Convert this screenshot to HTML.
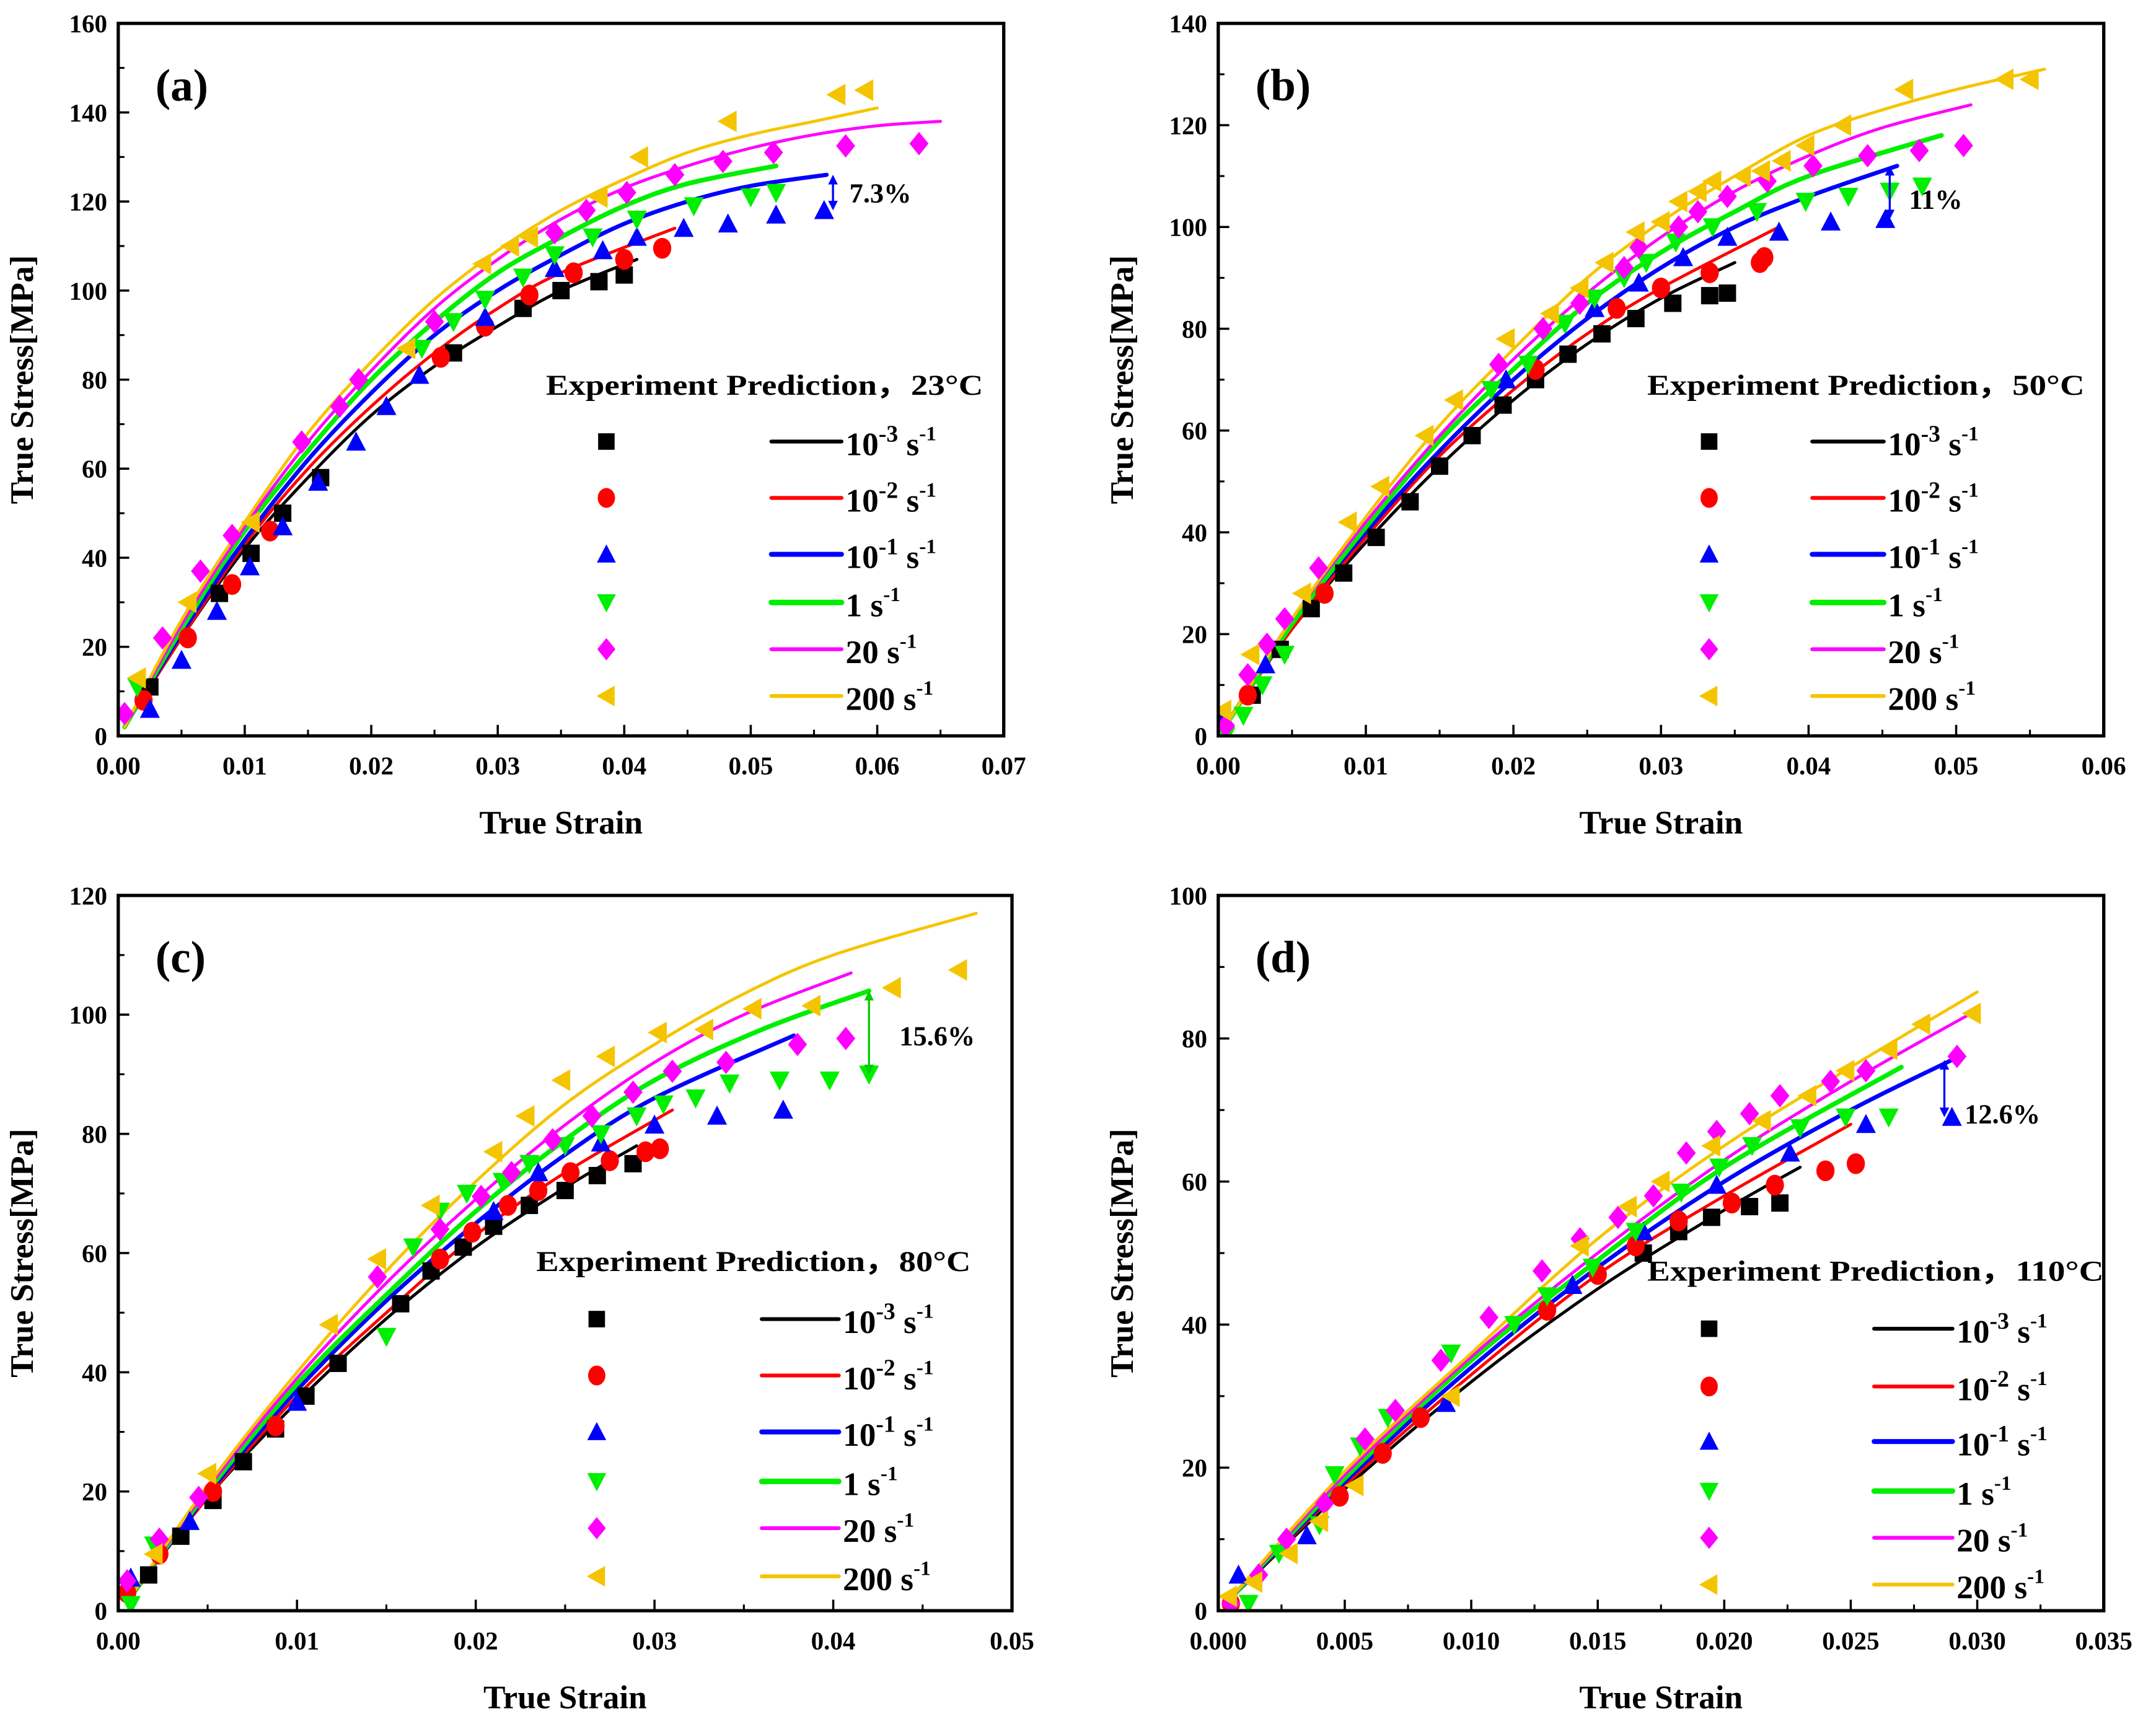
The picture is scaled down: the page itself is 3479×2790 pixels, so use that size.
<!DOCTYPE html>
<html><head><meta charset="utf-8"><style>
html,body{margin:0;padding:0;background:#fff;}
svg{display:block;}
text{font-family:"Liberation Serif",serif;font-weight:bold;fill:#000;}
</style></head><body>
<svg id="fig" width="3479" height="2790" viewBox="0 0 1568 1257" preserveAspectRatio="none" xmlns="http://www.w3.org/2000/svg"></svg>
<script>
// ===== shared series meta =====
const seriesKeys = ["r3","r2","r1","r0","r20","r200"];
const seriesColors = ["#000000","#ff0000","#0000ff","#00ee00","#ff00ff","#f5c400"];
const seriesWidths = [2.2,2.2,3,3.4,2.2,2.2];
const markerShapes = ["square","circle","up","down","diamond","left"];

// ===== Panel (a) 23°C =====
const aPredX = {r3:[0.0005,0.005,0.01,0.015,0.02,0.025,0.03,0.035,0.041],
 r2:[0.0005,0.005,0.01,0.015,0.02,0.025,0.03,0.035,0.044],
 r1:[0.0005,0.005,0.01,0.015,0.02,0.025,0.03,0.035,0.04,0.045,0.05,0.056],
 r0:[0.0005,0.005,0.01,0.015,0.02,0.025,0.03,0.035,0.04,0.045,0.052],
 r20:[0.0005,0.005,0.01,0.015,0.02,0.025,0.03,0.035,0.04,0.045,0.05,0.055,0.06,0.065],
 r200:[0.0005,0.005,0.01,0.015,0.02,0.025,0.03,0.035,0.04,0.045,0.05,0.055,0.06]};
const aPredY = {r3:[2,22,42,58,72,83,92,100,107],
 r2:[2,22,43,60,74,86,96,104,114],
 r1:[2,23,44,62,77,90,100,108,115,120,123.5,126],
 r0:[2,24,46,64,80,93,104,112,119,124,128],
 r20:[2,25,47,66,82,96,107,116,123,128,132,135,137,138],
 r200:[2,26,48,68,84,98,109,118,125,131,135,138,141]};
const aExpX = {r3:[0.0025,0.008,0.0105,0.013,0.016,0.0265,0.032,0.035,0.038,0.040],
 r2:[0.002,0.0055,0.009,0.012,0.0255,0.029,0.0325,0.036,0.040,0.043],
 r1:[0.0025,0.005,0.0078,0.0104,0.013,0.0158,0.0188,0.0212,0.0238,0.029,0.0345,0.0383,0.041,0.0447,0.0482,0.052,0.0558],
 r0:[0.0015,0.024,0.0265,0.029,0.032,0.0345,0.0375,0.041,0.0455,0.050,0.052],
 r20:[0.0005,0.0035,0.0065,0.009,0.0145,0.0175,0.019,0.025,0.0345,0.037,0.0402,0.044,0.0478,0.0518,0.0575,0.0633],
 r200:[0.0015,0.0055,0.0105,0.0228,0.0288,0.031,0.0325,0.038,0.0412,0.0482,0.0568,0.059]};
const aExpY = {r3:[11,32,41,50,58,86,96,100,102,103.5],
 r2:[8,22,34,46,85,92,99,104,107,109.5],
 r1:[6,17,28,38,47,57,66,74,81,94,105,109,112,114,115,117,118],
 r0:[11,87,93,98,103,108,112,116,119,121,122],
 r20:[5,22,37,45,66,74,80,93,113,118,122,126,129,131,132.5,133],
 r200:[13,30,48,87,106,110,112,121,130,138,144,145]};

// ===== Panel (b) 50°C =====
const bPredX = {r3:[0.0005,0.005,0.01,0.015,0.02,0.025,0.03,0.035],
 r2:[0.0005,0.005,0.01,0.015,0.02,0.025,0.03,0.038],
 r1:[0.0005,0.005,0.01,0.015,0.02,0.025,0.03,0.035,0.04,0.046],
 r0:[0.0005,0.005,0.01,0.015,0.02,0.025,0.03,0.035,0.04,0.049],
 r20:[0.0005,0.005,0.01,0.015,0.02,0.025,0.03,0.035,0.04,0.045,0.051],
 r200:[0.0005,0.005,0.01,0.015,0.02,0.025,0.03,0.035,0.04,0.045,0.05,0.056]};
const bPredY = {r3:[2,21,38,53,66,77,86,93],
 r2:[2,21,39,55,68,79,88,100],
 r1:[2,22,40,56,70,82,92,100,106,112],
 r0:[2,22,41,58,72,85,95,103,110,118],
 r20:[2,23,42,59,74,87,98,107,114,119.5,124],
 r200:[2,23,43,61,76,90,101,110,118,123,127,131]};
const bExpX = {r3:[0.0023,0.0042,0.0063,0.0085,0.0107,0.013,0.015,0.0172,0.0193,0.0215,0.0237,0.026,0.0283,0.0308,0.0333,0.0345],
 r2:[0.002,0.0072,0.0215,0.027,0.030,0.0333,0.0367,0.037],
 r1:[0.0003,0.0032,0.0195,0.0255,0.0285,0.0315,0.0345,0.038,0.0415,0.0452],
 r0:[0.0005,0.0017,0.003,0.0045,0.0185,0.021,0.0235,0.0255,0.0275,0.029,0.031,0.0335,0.0365,0.0398,0.0427,0.0455,0.0477],
 r20:[0.0005,0.002,0.0033,0.0045,0.0068,0.019,0.022,0.0245,0.0275,0.0285,0.0312,0.0325,0.0345,0.0372,0.0403,0.044,0.0475,0.0505],
 r200:[0.0003,0.0022,0.0057,0.0088,0.011,0.014,0.016,0.0195,0.0225,0.0245,0.0262,0.0283,0.030,0.0312,0.0325,0.0335,0.0355,0.0368,0.0382,0.0398,0.0423,0.0465,0.0533,0.055]};
const bExpY = {r3:[8,17,25,32,39,46,53,59,65,70,75,79,82,85,86.5,87],
 r2:[8,28,72,84,88,91,93,94],
 r1:[4,14,70,84,89,94,98,99,101,101.5],
 r0:[0,4,10,16,68,73,81,86,90,93,97,100,103,105,106,107,108],
 r20:[2,12,18,23,33,73,80,85,92,96,100,103,106,109,112,114,115,116],
 r200:[5,16,28,42,49,59,66,78,83,88,93,99,101,105,107,109,110,111,113,116,120,127,129,129]};

// ===== Panel (c) 80°C =====
const cPredX = {r3:[0.0005,0.005,0.01,0.015,0.02,0.025,0.029],
 r2:[0.0005,0.005,0.01,0.015,0.02,0.025,0.031],
 r1:[0.0005,0.005,0.01,0.015,0.02,0.025,0.03,0.0378],
 r0:[0.0005,0.005,0.01,0.015,0.02,0.025,0.03,0.036,0.042],
 r20:[0.0005,0.005,0.01,0.015,0.02,0.025,0.03,0.035,0.041],
 r200:[0.0005,0.005,0.01,0.015,0.02,0.025,0.03,0.035,0.04,0.048]};
const cPredY = {r3:[1.5,19,35,49,61,71,78],
 r2:[1.5,19,36,50,63,73.5,84],
 r1:[1.5,19.5,37,52,65,76.5,86,96.5],
 r0:[1.5,20,38,53,67,79,89,97.5,104],
 r20:[1.5,20.5,39,55,69,81.5,92,100,107],
 r200:[1.5,21,40,57,72,85,95,103.5,110,117]};
const cExpX = {r3:[0.0017,0.0035,0.0053,0.007,0.0088,0.0105,0.0123,0.0158,0.0175,0.0193,0.021,0.023,0.025,0.0268,0.0288],
 r2:[0.0005,0.0023,0.0053,0.0088,0.018,0.0198,0.0218,0.0235,0.0253,0.0275,0.0295,0.0303],
 r1:[0.0007,0.004,0.01,0.021,0.0235,0.027,0.030,0.0335,0.0372],
 r0:[0.0007,0.002,0.015,0.0165,0.018,0.0195,0.0215,0.023,0.025,0.027,0.029,0.0305,0.0323,0.0342,0.037,0.0398,0.042],
 r20:[0.0005,0.0023,0.0045,0.0145,0.018,0.0203,0.022,0.0243,0.0265,0.0288,0.031,0.034,0.038,0.0407],
 r200:[0.002,0.005,0.0118,0.0145,0.0175,0.021,0.0228,0.0248,0.0273,0.0302,0.0328,0.0355,0.0388,0.0433,0.047]};
const cExpY = {r3:[6,12.5,18.5,25,30.5,36,41.5,51.5,57,61,64.5,68,70.5,73,75],
 r2:[3,9.5,20,31,59,63.5,68,70.5,73.5,75.5,77,77.5],
 r1:[5.5,15,35,67,73.5,78.5,81.5,83,84],
 r0:[1,11,46,61,67,70,72,75,78,80,83,85,86,88.5,89,89,90],
 r20:[5,12,19,56,64,69.5,73.5,79,83,87,90.5,92,95,96],
 r200:[9.5,23,48,59,68,77,83,89,93,97,97.5,101,101.5,104.5,107.5]};

// ===== Panel (d) 110°C =====
const dPredX = {r3:[0.0003,0.005,0.01,0.015,0.02,0.023],
 r2:[0.0003,0.005,0.01,0.015,0.02,0.025],
 r1:[0.0003,0.005,0.01,0.015,0.02,0.025,0.029],
 r0:[0.0003,0.005,0.01,0.015,0.02,0.027],
 r20:[0.0003,0.005,0.01,0.015,0.02,0.025,0.03],
 r200:[0.0003,0.005,0.01,0.015,0.02,0.025,0.03]};
const dPredY = {r3:[1,17,32,45,56,62],
 r2:[1,17.5,33,47,58,68],
 r1:[1,18,34,48,60,70,77],
 r0:[1,18.5,35,49,62,76],
 r20:[1,19,35.5,50,63,74,84],
 r200:[1,19.5,36,52,65,76,86.5]};
const dExpX = {r3:[0.0168,0.0182,0.0195,0.021,0.0222],
 r2:[0.0005,0.0048,0.0065,0.008,0.013,0.015,0.0165,0.0182,0.0203,0.022,0.024,0.0252],
 r1:[0.0008,0.0035,0.009,0.014,0.0168,0.0197,0.0226,0.0256,0.029],
 r0:[0.0012,0.0024,0.004,0.0046,0.0056,0.0067,0.0092,0.0117,0.013,0.0148,0.0165,0.0183,0.0198,0.0211,0.023,0.0248,0.0265],
 r20:[0.0005,0.0016,0.0027,0.0042,0.0058,0.007,0.0088,0.0107,0.0128,0.0143,0.0158,0.0172,0.0185,0.0197,0.021,0.0222,0.0242,0.0256,0.0292],
 r200:[0.0004,0.0014,0.0028,0.004,0.0054,0.0092,0.0143,0.0162,0.0175,0.0195,0.0215,0.0233,0.0248,0.0265,0.0278,0.0298]};
const dExpY = {r3:[50,53,55,56.5,57],
 r2:[1,16,22,27,42,47,51,54.5,57,59.5,61.5,62.5],
 r1:[5,10.5,29,45.5,53,59.5,64,68,69],
 r0:[1,8,12,19,23,27,36,40,44,48,53,58.5,62,65,67.5,69,69],
 r20:[1,5,10,15,24,28,35,41,47.5,52,55,58,64,67,69.5,72,74,75.5,77.5],
 r200:[2,4,8,12.5,17.5,30,51,56.5,60,65,68.5,72,75.5,78.5,82,83.5]};

// ===== axis tick labels =====
const aXTicks = ["0.00","0.01","0.02","0.03","0.04","0.05","0.06","0.07"];
const aYTicks = ["0","20","40","60","80","100","120","140","160"];
const bXTicks = ["0.00","0.01","0.02","0.03","0.04","0.05","0.06"];
const bYTicks = ["0","20","40","60","80","100","120","140"];
const cXTicks = ["0.00","0.01","0.02","0.03","0.04","0.05"];
const cYTicks = ["0","20","40","60","80","100","120"];
const dXTicks = ["0.000","0.005","0.010","0.015","0.020","0.025","0.030","0.035"];
const dYTicks = ["0","20","40","60","80","100"];
const legendLabels = [["10","-3"],["10","-2"],["10","-1"],["1",""],["20",""],["200",""]];
const tempLabels = ["23°C","50°C","80°C","110°C"];
const annoTexts = ["7.3%","11%","15.6%","12.6%"];

const NS="http://www.w3.org/2000/svg";
const svg=document.getElementById('fig');
function mk(tag,attrs,parent){const e=document.createElementNS(NS,tag);for(const k in attrs)e.setAttribute(k,attrs[k]);(parent||svg).appendChild(e);return e;}

function catmull(pts){
  let d="M"+pts[0][0].toFixed(2)+","+pts[0][1].toFixed(2);
  for(let i=0;i<pts.length-1;i++){
    const p0=pts[i-1]||pts[i],p1=pts[i],p2=pts[i+1],p3=pts[i+2]||p2;
    const c1=[p1[0]+(p2[0]-p0[0])/6,p1[1]+(p2[1]-p0[1])/6];
    const c2=[p2[0]-(p3[0]-p1[0])/6,p2[1]-(p3[1]-p1[1])/6];
    d+=" C"+c1[0].toFixed(2)+","+c1[1].toFixed(2)+" "+c2[0].toFixed(2)+","+c2[1].toFixed(2)+" "+p2[0].toFixed(2)+","+p2[1].toFixed(2);
  }
  return d;
}
function marker(g,shape,x,y,s,color){
  let e;
  if(shape==="square") e=mk('rect',{x:x-s,y:y-s,width:2*s,height:2*s,fill:color},g);
  else if(shape==="circle") e=mk('ellipse',{cx:x,cy:y,rx:s*1.05,ry:s*1.2,fill:color},g);
  else if(shape==="up") e=mk('polygon',{points:`${x},${y-s*1.2} ${x-s*1.15},${y+s} ${x+s*1.15},${y+s}`,fill:color},g);
  else if(shape==="down") e=mk('polygon',{points:`${x},${y+s*1.2} ${x-s*1.15},${y-s} ${x+s*1.15},${y-s}`,fill:color},g);
  else if(shape==="diamond") e=mk('polygon',{points:`${x},${y-s*1.35} ${x+s*1.1},${y} ${x},${y+s*1.35} ${x-s*1.1},${y}`,fill:color},g);
  else e=mk('polygon',{points:`${x-s*1.2},${y} ${x+s},${y-s*1.25} ${x+s},${y+s*1.25}`,fill:color},g);
  return e;
}

function panel(cfg){
  const {id,L,R,T,B,xmax,ymax,xTicks,yTicks,xMinorStep,yMinorStep,predX,predY,expX,expY,leg,label,anno}=cfg;
  const g=mk('g',{});
  
  
  const sx=v=>L+(R-L)*v/xmax, sy=v=>B-(B-T)*v/ymax;
  // clip
  const cp=mk('clipPath',{id:'clip-'+id},g);
  mk('rect',{x:L,y:T,width:R-L,height:B-T},cp);
  // ticks
  const tg=mk('g',{},g);
  
  
  const nx=xTicks.length-1;
  for(let i=0;i<=nx;i++){
    const v=xmax*i/nx,x=sx(v);
    mk('line',{x1:x,y1:B,x2:x,y2:B-8,stroke:'#000','stroke-width':1.6},tg);
    if(i<nx){const xm=sx(v+xMinorStep);mk('line',{x1:xm,y1:B,x2:xm,y2:B-4.5,stroke:'#000','stroke-width':1.4},tg);}
    const t=mk('text',{x:x,y:B+28,'font-size':18.5,'text-anchor':'middle'},tg);
    
    
    t.textContent=xTicks[i];
  }
  const ny=yTicks.length-1;
  for(let i=0;i<=ny;i++){
    const v=ymax*i/ny,y=sy(v);
    mk('line',{x1:L,y1:y,x2:L+8,y2:y,stroke:'#000','stroke-width':1.6},tg);
    if(i<ny){const ym=sy(v+yMinorStep);mk('line',{x1:L,y1:ym,x2:L+4.5,y2:ym,stroke:'#000','stroke-width':1.4},tg);}
    const t=mk('text',{x:L-8,y:y+6.5,'font-size':18.5,'text-anchor':'end'},tg);
    
    
    t.textContent=yTicks[i];
  }
  // axis titles
  const xt=mk('text',{x:(L+R)/2,y:B+71,'font-size':24,'text-anchor':'middle'},g);
  
  
  xt.textContent='True Strain';
  const ycx=L-62,ycy=(T+B)/2;
  const yt=mk('text',{x:ycx,y:ycy,'font-size':24,'text-anchor':'middle',transform:`rotate(-90 ${ycx} ${ycy})`},g);
  
  
  yt.textContent='True Stress[MPa]';
  // panel label
  const pl=mk('text',{x:L+27,y:T+56,'font-size':33},g);
  
  
  pl.textContent=label;
  // series
  const sg=mk('g',{'clip-path':`url(#clip-${id})`},g);
  seriesKeys.forEach((k,si)=>{
    const pts=predX[k].map((x,i)=>[sx(x),sy(predY[k][i])]);
    const p=mk('path',{d:catmull(pts),fill:'none',stroke:seriesColors[si],'stroke-width':seriesWidths[si],'stroke-linecap':'round'},sg);
    
    
  });
  seriesKeys.forEach((k,si)=>{
    const mg=mk('g',{},sg);
    
    
    expX[k].forEach((x,i)=>{marker(mg,markerShapes[si],sx(x),sy(expY[k][i]),6.3,seriesColors[si]);});
  });
  // annotation
  const ag=mk('g',{},g);
  
  
  const ax=sx(anno.x),ay1=sy(anno.y1),ay2=sy(anno.y2);
  mk('line',{x1:ax,y1:ay1-5,x2:ax,y2:ay2+5,stroke:anno.color,'stroke-width':1.5},ag);
  mk('polygon',{points:`${ax},${ay1} ${ax-3.5},${ay1-7} ${ax+3.5},${ay1-7}`,fill:anno.color},ag);
  mk('polygon',{points:`${ax},${ay2} ${ax-3.5},${ay2+7} ${ax+3.5},${ay2+7}`,fill:anno.color},ag);
  const at=mk('text',{x:sx(anno.tx),y:sy(anno.ty)+7,'font-size':20},ag);
  at.textContent=anno.text;
  // legend
  const lg=mk('g',{},g);
  
  
  const ht=mk('text',{x:leg.hx,y:leg.hy,'font-size':21,textLength:leg.hw,lengthAdjust:'spacingAndGlyphs'},lg);
  
  
  ht.textContent='Experiment  Prediction，'+leg.temp;
  leg.rows.forEach((ry,si)=>{
    const eg=mk('g',{},lg);
    
    
    marker(eg,markerShapes[si],leg.mx,ry,6,seriesColors[si]);
    mk('line',{x1:leg.l1,y1:ry,x2:leg.l2,y2:ry,stroke:seriesColors[si],'stroke-width':seriesWidths[si]+0.6,'stroke-linecap':'round'},eg);
    const t=mk('text',{x:leg.l2+3,y:ry+10,'font-size':24},eg);
    const lab=legendLabels[si];
    const s1=mk('tspan',{},t);s1.textContent=lab[0];
    if(lab[1]){const s2=mk('tspan',{'font-size':17,dy:-10},t);s2.textContent=lab[1];
      const s3=mk('tspan',{dy:10},t);s3.textContent=' s';}
    else{const s3=mk('tspan',{},t);s3.textContent=' s';}
    const s4=mk('tspan',{'font-size':15,dy:-11},t);s4.textContent='-1';
  });
  // frame
  const fr=mk('rect',{x:L,y:T,width:R-L,height:B-T,fill:'none',stroke:'#000','stroke-width':2.4},g);
  
  
}

panel({id:'a',L:86,R:730,T:17,B:535,xmax:0.07,ymax:160,xTicks:aXTicks,yTicks:aYTicks,xMinorStep:0.005,yMinorStep:10,
  predX:aPredX,predY:aPredY,expX:aExpX,expY:aExpY,label:'(a)',
  anno:{x:0.0565,y1:118,y2:126,color:'#0000ff',tx:0.0578,ty:122,text:annoTexts[0]},
  leg:{hx:397,hy:287,hw:318,temp:tempLabels[0],rows:[321,362,403,438,472,506],mx:441,l1:561,l2:612}});
panel({id:'b',L:886,R:1530,T:17,B:535,xmax:0.06,ymax:140,xTicks:bXTicks,yTicks:bYTicks,xMinorStep:0.005,yMinorStep:10,
  predX:bPredX,predY:bPredY,expX:bExpX,expY:bExpY,label:'(b)',
  anno:{x:0.0455,y1:101.5,y2:112,color:'#0000ff',tx:0.0468,ty:105.5,text:annoTexts[1]},
  leg:{hx:1198,hy:287,hw:318,temp:tempLabels[1],rows:[321,362,403,438,472,506],mx:1243,l1:1318,l2:1370}});
panel({id:'c',L:86,R:736,T:651,B:1171,xmax:0.05,ymax:120,xTicks:cXTicks,yTicks:cYTicks,xMinorStep:0.005,yMinorStep:10,
  predX:cPredX,predY:cPredY,expX:cExpX,expY:cExpY,label:'(c)',
  anno:{x:0.042,y1:90,y2:104,color:'#00cc00',tx:0.0437,ty:96.5,text:annoTexts[2]},
  leg:{hx:390,hy:924,hw:316,temp:tempLabels[2],rows:[959,1000,1041,1077,1111,1146],mx:434,l1:554,l2:610}});
panel({id:'d',L:886,R:1530,T:651,B:1171,xmax:0.035,ymax:100,xTicks:dXTicks,yTicks:dYTicks,xMinorStep:0.0025,yMinorStep:10,
  predX:dPredX,predY:dPredY,expX:dExpX,expY:dExpY,label:'(d)',
  anno:{x:0.0287,y1:69,y2:77,color:'#0000ff',tx:0.0295,ty:69.5,text:annoTexts[3]},
  leg:{hx:1198,hy:931,hw:332,temp:tempLabels[3],rows:[966,1008,1048,1084,1118,1152],mx:1243,l1:1363,l2:1420}});
</script>
</body></html>
